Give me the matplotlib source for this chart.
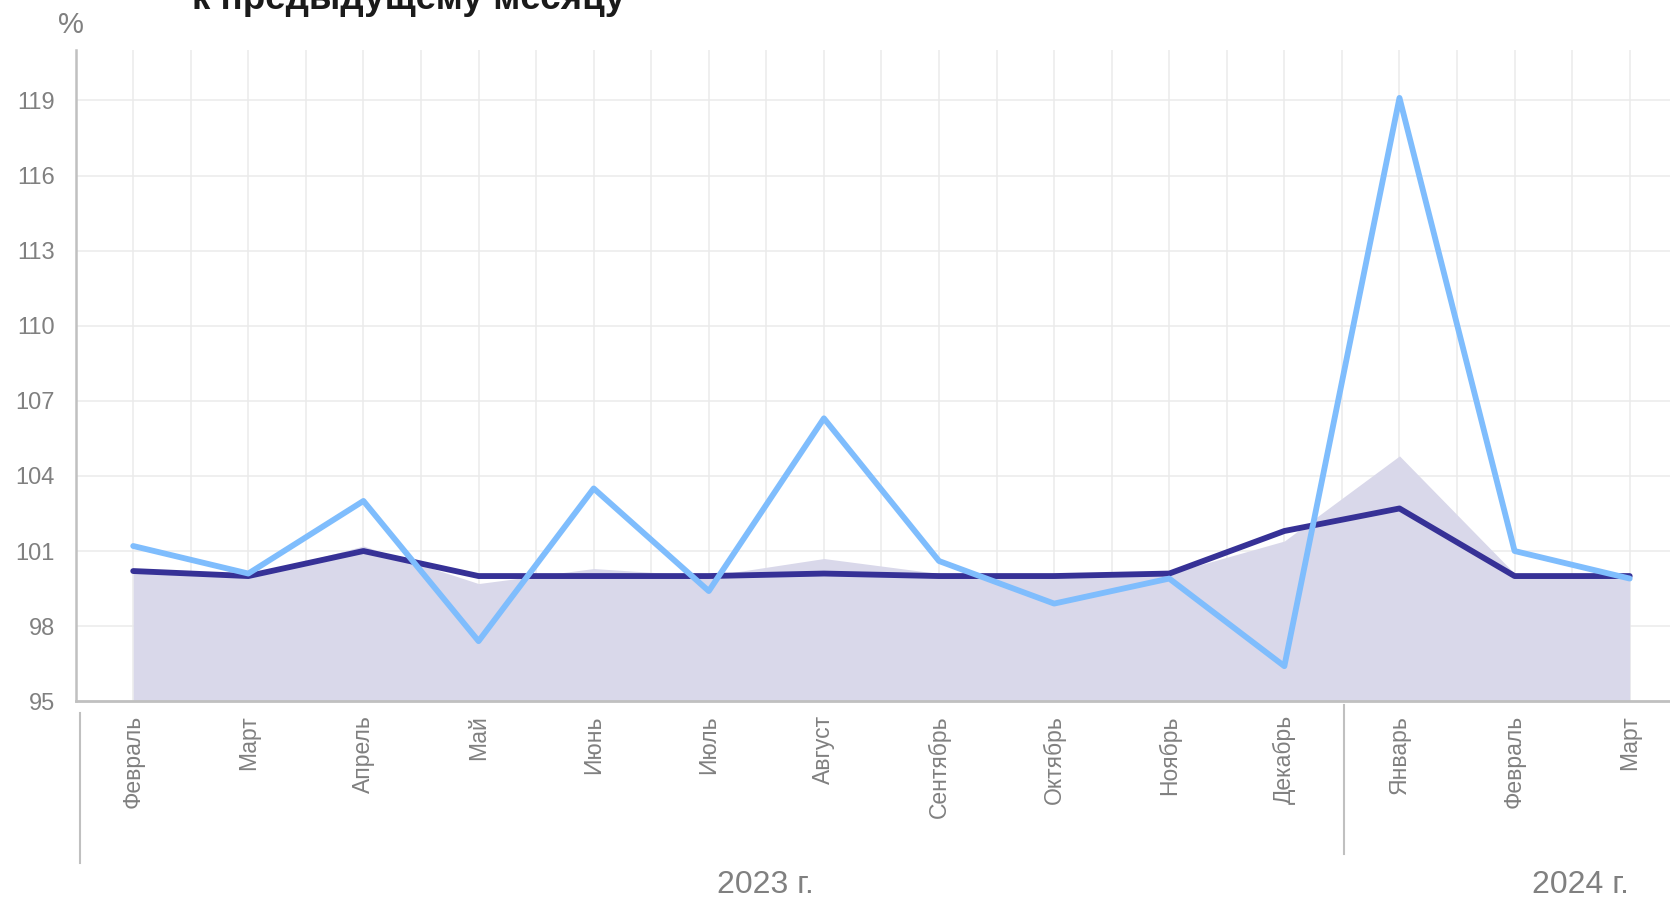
import matplotlib.pyplot as plt
import numpy as np

plt.rcParams['font.family'] = ['Liberation Sans', 'DejaVu Sans']

# --- data ---
months = ['Февраль', 'Март', 'Апрель', 'Май', 'Июнь', 'Июль', 'Август',
          'Сентябрь', 'Октябрь', 'Ноябрь', 'Декабрь', 'Январь', 'Февраль', 'Март']
years = ['2023 г.', '2024 г.']
dark_line = [100.2, 100.0, 101.0, 100.0, 100.0, 100.0, 100.1,
             100.0, 100.0, 100.1, 101.8, 102.7, 100.0, 100.0]
light_line = [101.2, 100.1, 103.0, 97.4, 103.5, 99.4, 106.3,
              100.6, 98.9, 99.9, 96.4, 119.1, 101.0, 99.9]
area_vals = [100.3, 100.0, 101.2, 99.7, 100.3, 100.0, 100.7,
             100.1, 100.0, 100.1, 101.4, 104.8, 100.1, 100.0]
yticks = [95, 98, 101, 104, 107, 110, 113, 116, 119]

DARK = '#363196'
LIGHT = '#7fbdfd'
AREA = '#d9d8ea'
GRID = '#ebebeb'
AXIS = '#c0c0c0'
TEXT = '#808080'

fig = plt.figure(figsize=(16.7, 8.99), dpi=100)
ax = fig.add_axes([0.0453, 0.220, 0.9547, 0.724])

x = np.arange(len(months))
ax.fill_between(x, 95, area_vals, color=AREA, lw=0, zorder=2)
ax.plot(x, dark_line, color=DARK, lw=4.2, solid_joinstyle='round',
        solid_capstyle='round', zorder=3)
ax.plot(x, light_line, color=LIGHT, lw=4.2, solid_joinstyle='round',
        solid_capstyle='round', zorder=4)

ax.set_xlim(-0.5, 13.35)
ax.set_ylim(95, 121)

# grid
for gx in np.arange(0, 13.51, 0.5):
    ax.axvline(gx, color=GRID, lw=1.1, zorder=1)
for gy in yticks[1:]:
    ax.axhline(gy, color=GRID, lw=1.1, zorder=1)

ax.set_yticks(yticks)
ax.set_yticklabels([str(v) for v in yticks], fontsize=17, color=TEXT)
ax.set_xticks(x)
ax.set_xticklabels(months, rotation=90, fontsize=16.5, color=TEXT, va='top')
ax.tick_params(axis='y', length=0, pad=15)
ax.tick_params(axis='x', length=0, pad=10)

for side in ['top', 'right']:
    ax.spines[side].set_visible(False)
ax.spines['left'].set_color(AXIS)
ax.spines['left'].set_linewidth(1.8)
ax.spines['bottom'].set_color(AXIS)
ax.spines['bottom'].set_linewidth(2.0)
ax.spines['bottom'].set_zorder(5)

# year separators and labels
tr = ax.get_xaxis_transform()
ax.plot([-0.46, -0.46], [-0.018, -0.249], color=AXIS, lw=1.5,
        transform=tr, clip_on=False)
ax.plot([10.52, 10.52], [-0.006, -0.235], color=AXIS, lw=1.5,
        transform=tr, clip_on=False)
ax.text(5.49, -0.283, years[0], transform=tr, ha='center', va='center',
        fontsize=23, color=TEXT)
ax.text(12.57, -0.283, years[1], transform=tr, ha='center', va='center',
        fontsize=23, color=TEXT)

# unit and title (its upper part lies above the picture, as in the original)
fig.text(0.0425, 0.972, '%', fontsize=21, color=TEXT, ha='center', va='center')
fig.text(0.115, 1 - 9 / 899, 'к предыдущему месяцу', fontsize=26.5,
         fontweight='bold', color='#1a1a1a', ha='left', va='baseline')

fig.savefig('out.png', dpi=100)
